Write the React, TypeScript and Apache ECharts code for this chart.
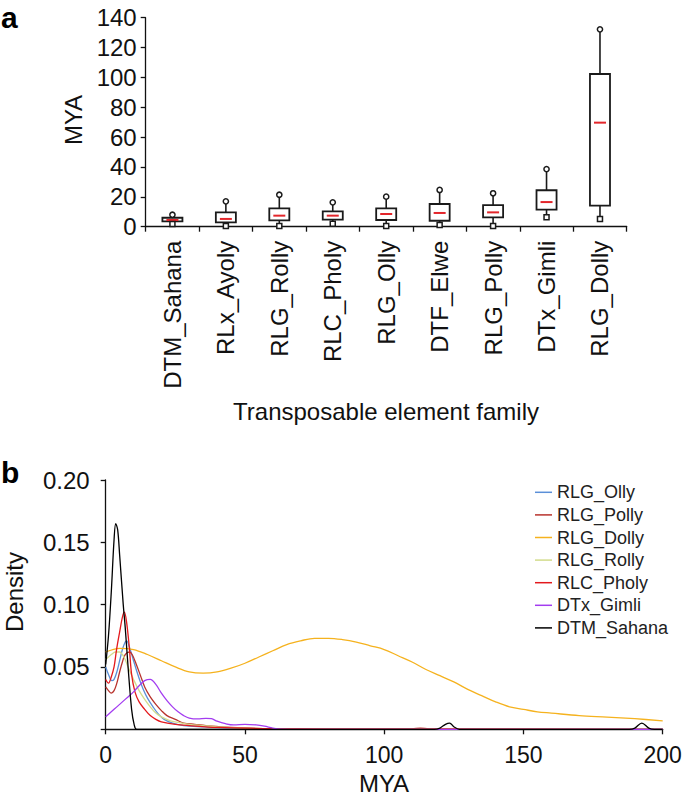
import React, { useEffect, useRef } from "react";
import * as echarts from "echarts";

// ---------- Panel a: box plots ----------
const families = ["DTM_Sahana", "RLx_Ayoly", "RLG_Rolly", "RLC_Pholy", "RLG_Olly", "DTF_Elwe", "RLG_Polly", "DTx_Gimli", "RLG_Dolly"];
const boxMin = [1.8, 0.5, 0.5, 2.0, 0.5, 1.1, 0.5, 6.3, 5.2];
const boxQ1 = [3.6, 2.9, 4.3, 4.7, 4.5, 4.0, 6.3, 11.4, 14.1];
const boxMed = [4.5, 5.2, 7.4, 7.4, 8.5, 9.2, 9.6, 16.5, 69.7];
const boxQ3 = [6.0, 9.6, 12.3, 10.3, 12.3, 15.2, 14.5, 24.4, 102.3];
const boxMax = [8.0, 17.0, 21.4, 16.3, 20.1, 24.6, 22.4, 38.6, 132.2];
const yTicksA = { min: 0, max: 140, interval: 20 };

// ---------- Panel b: density curves ----------
const ollyX = [0, 1, 2.2, 3, 4, 5, 6, 7, 7.5, 8.5, 10, 11.1, 12.3, 13.5, 15, 17, 19, 21, 24, 28, 35, 45, 60, 80, 200];
const ollyY = [0.05, 0.044, 0.039, 0.04, 0.046, 0.055, 0.064, 0.07, 0.071, 0.066, 0.055, 0.047, 0.039, 0.032, 0.025, 0.018, 0.012, 0.008, 0.005, 0.003, 0.002, 0.001, 0.0004, 0.0002, 0];

const pollyX = [0, 1, 2, 3, 4, 5, 6, 7, 8.5, 9.5, 11, 12.5, 14, 16, 18, 20, 22, 25, 28, 32, 36, 45, 60, 80, 110, 113, 116, 200];
const pollyY = [0.034, 0.031, 0.029, 0.031, 0.037, 0.046, 0.054, 0.06, 0.062, 0.06, 0.052, 0.043, 0.034, 0.026, 0.02, 0.015, 0.011, 0.008, 0.005, 0.004, 0.003, 0.0015, 0.0005, 0.0003, 0.0003, 0.001, 0.0003, 0];

const dollyX = [0, 5, 10, 15, 20, 25, 30, 35, 40, 45, 50, 55, 60, 65, 70, 75, 80, 85, 90, 95, 100, 105, 110, 115, 120, 125, 130, 135, 140, 145, 150, 155, 160, 170, 180, 190, 200];
const dollyY = [0.062, 0.065, 0.064, 0.06, 0.055, 0.05, 0.046, 0.045, 0.046, 0.049, 0.053, 0.058, 0.063, 0.068, 0.071, 0.073, 0.073, 0.072, 0.07, 0.067, 0.064, 0.059, 0.054, 0.048, 0.043, 0.038, 0.032, 0.027, 0.022, 0.018, 0.016, 0.014, 0.013, 0.011, 0.0098, 0.0085, 0.0068];

const rollyX = [0, 1, 2, 3.5, 5, 6, 7, 8, 9, 10, 12, 14, 16, 18, 20, 23, 26, 30, 35, 40, 50, 60, 80, 200];
const rollyY = [0.056, 0.058, 0.06, 0.062, 0.062, 0.06, 0.056, 0.05, 0.045, 0.04, 0.031, 0.024, 0.018, 0.013, 0.01, 0.007, 0.0055, 0.004, 0.003, 0.002, 0.001, 0.0005, 0.0002, 0];

const pholyX = [0, 1, 2, 3, 3.9, 5, 6, 6.7, 7.5, 8.5, 9.3, 10.5, 12, 14, 16, 18, 20, 25, 30, 40, 60, 80, 200];
const pholyY = [0.04, 0.037, 0.042, 0.05, 0.064, 0.078, 0.09, 0.094, 0.086, 0.065, 0.044, 0.03, 0.022, 0.016, 0.011, 0.008, 0.006, 0.004, 0.003, 0.0015, 0.0005, 0.0002, 0];

const gimliX = [0, 2, 4, 6, 8, 10, 12, 14, 16, 18, 20, 22, 24, 26, 28, 30, 33, 36, 38, 40, 43, 46, 50, 54, 57, 60, 63, 70, 200];
const gimliY = [0.01, 0.014, 0.018, 0.022, 0.026, 0.03, 0.035, 0.039, 0.04, 0.036, 0.029, 0.023, 0.018, 0.014, 0.011, 0.009, 0.0083, 0.0088, 0.0085, 0.0065, 0.0045, 0.0035, 0.004, 0.0035, 0.0025, 0.001, 0.0002, 0, 0];

const sahanaX = [0, 1, 2, 3, 3.6, 4.3, 5, 6.3, 7, 8.1, 9.3, 10.2, 11.1, 20, 118, 120, 122, 123.5, 125, 127, 188, 190, 192.5, 195, 197, 200];
const sahanaY = [0.052, 0.075, 0.11, 0.152, 0.165, 0.16, 0.14, 0.1, 0.082, 0.048, 0.016, 0.004, 0, 0, 0, 0.001, 0.004, 0.005, 0.002, 0, 0, 0.001, 0.005, 0.001, 0, 0];

const densityNames = ["RLG_Olly", "RLG_Polly", "RLG_Dolly", "RLG_Rolly", "RLC_Pholy", "DTx_Gimli", "DTM_Sahana"];
const densityColors = ["#5b8fd8", "#b8322c", "#f5b21e", "#d3dc8c", "#e3191d", "#a33cf0", "#000000"];
const densityXs = [ollyX, pollyX, dollyX, rollyX, pholyX, gimliX, sahanaX];
const densityYs = [ollyY, pollyY, dollyY, rollyY, pholyY, gimliY, sahanaY];

const FONT = '"Liberation Sans", Arial, Helvetica, sans-serif';
const INK = "#111";

export default function App() {
  const ref = useRef<HTMLDivElement>(null);

  useEffect(() => {
    if (!ref.current) return;
    const chart = echarts.init(ref.current, undefined, { renderer: "svg" });

    const boxData = families.map((_, i) => [i, boxMin[i], boxQ1[i], boxMed[i], boxQ3[i], boxMax[i]]);

    const lineSeries = densityNames.map((name, k) => ({
      name,
      type: "line",
      xAxisIndex: 1,
      yAxisIndex: 1,
      data: densityXs[k].map((x, j) => [x, densityYs[k][j]]),
      showSymbol: false,
      smooth: 0.35,
      clip: true,
      color: densityColors[k],
      lineStyle: { color: densityColors[k], width: 1.3 },
      itemStyle: { color: densityColors[k] },
      z: 2 + k,
    }));

    const option: any = {
      animation: false,
      textStyle: { fontFamily: FONT },
      grid: [
        { left: 145.7, top: 17.7, width: 481, height: 209 },
        { left: 105.7, top: 480, width: 557, height: 249.3 },
      ],
      xAxis: [
        {
          type: "category",
          gridIndex: 0,
          data: families,
          boundaryGap: true,
          axisLine: { show: true, lineStyle: { color: INK, width: 1.3 } },
          axisTick: { show: true, alignWithLabel: false, interval: 0, length: 5, lineStyle: { color: INK, width: 1.3 } },
          axisLabel: { rotate: 90, interval: 0, fontSize: 24, color: INK, margin: 14, fontFamily: FONT },
          splitLine: { show: false },
        },
        {
          type: "value",
          gridIndex: 1,
          min: 0,
          max: 200,
          interval: 50,
          axisLine: { show: true, onZero: false, lineStyle: { color: INK, width: 1.3 } },
          axisTick: { show: true, length: 5, lineStyle: { color: INK, width: 1.3 } },
          axisLabel: { fontSize: 23, color: INK, margin: 14, fontFamily: FONT },
          splitLine: { show: false },
        },
      ],
      yAxis: [
        {
          type: "value",
          gridIndex: 0,
          min: yTicksA.min,
          max: yTicksA.max,
          interval: yTicksA.interval,
          axisLine: { show: true, lineStyle: { color: INK, width: 1.3 } },
          axisTick: { show: true, length: 5, lineStyle: { color: INK, width: 1.3 } },
          axisLabel: { fontSize: 24, color: INK, margin: 9, fontFamily: FONT },
          splitLine: { show: false },
        },
        {
          type: "value",
          gridIndex: 1,
          min: 0,
          max: 0.2,
          interval: 0.05,
          axisLine: { show: true, lineStyle: { color: INK, width: 1.3 } },
          axisTick: { show: true, length: 5, lineStyle: { color: INK, width: 1.3 } },
          axisLabel: {
            fontSize: 24,
            color: INK,
            margin: 16,
            fontFamily: FONT,
            formatter: (v: number) => (v === 0 ? "" : v.toFixed(2)),
          },
          splitLine: { show: false },
        },
      ],
      legend: {
        data: densityNames,
        orient: "vertical",
        left: 530,
        top: 476,
        icon: "rect",
        itemWidth: 17,
        itemHeight: 1.5,
        itemGap: 0,
        textStyle: { fontSize: 18, color: "#222", fontFamily: FONT, lineHeight: 22.6 },
        selectedMode: false,
      },
      series: [
        {
          type: "custom",
          name: "box",
          xAxisIndex: 0,
          yAxisIndex: 0,
          data: boxData,
          encode: { x: 0, y: [1, 2, 3, 4, 5] },
          renderItem: (params: any, api: any) => {
            const idx = api.value(0);
            const cx = api.coord([idx, api.value(1)])[0];
            const yMin = api.coord([idx, api.value(1)])[1];
            const yQ1 = api.coord([idx, api.value(2)])[1];
            const yMed = api.coord([idx, api.value(3)])[1];
            const yQ3 = api.coord([idx, api.value(4)])[1];
            const yMax = api.coord([idx, api.value(5)])[1];
            const bw = api.size([1, 0])[0] * 0.375;
            const stroke = "#1a1a1a";
            return {
              type: "group",
              children: [
                { type: "line", shape: { x1: cx, y1: yQ3, x2: cx, y2: yMax }, style: { stroke, lineWidth: 1.6 } },
                { type: "line", shape: { x1: cx, y1: yQ1, x2: cx, y2: yMin }, style: { stroke, lineWidth: 1.6 } },
                {
                  type: "rect",
                  shape: { x: cx - bw / 2, y: yQ3, width: bw, height: yQ1 - yQ3 },
                  style: { fill: "#fff", stroke, lineWidth: 1.8 },
                },
                { type: "line", shape: { x1: cx - 6, y1: yMed, x2: cx + 6, y2: yMed }, style: { stroke: "#e3262b", lineWidth: 2 } },
                { type: "circle", shape: { cx, cy: yMax, r: 2.6 }, style: { fill: "#fff", stroke, lineWidth: 1.5 } },
                {
                  type: "rect",
                  shape: { x: cx - 2.5, y: yMin - 2.5, width: 5, height: 5 },
                  style: { fill: "#fff", stroke, lineWidth: 1.5 },
                },
              ],
            };
          },
          z: 3,
        },
        ...lineSeries,
      ],
      graphic: [
        { type: "text", left: 1, top: 2, style: { text: "a", font: `bold 30px ${FONT}`, fill: "#000" } },
        { type: "text", left: 1, top: 457, style: { text: "b", font: `bold 30px ${FONT}`, fill: "#000" } },
        {
          type: "text",
          x: 73,
          y: 120,
          rotation: Math.PI / 2,
          style: { text: "MYA", font: `24px ${FONT}`, fill: INK, align: "center", verticalAlign: "middle" },
        },
        {
          type: "text",
          x: 386,
          y: 411,
          style: { text: "Transposable element family", font: `24px ${FONT}`, fill: INK, align: "center", verticalAlign: "middle" },
        },
        {
          type: "text",
          x: 14,
          y: 592,
          rotation: Math.PI / 2,
          style: { text: "Density", font: `24px ${FONT}`, fill: INK, align: "center", verticalAlign: "middle" },
        },
        {
          type: "text",
          x: 384,
          y: 783,
          style: { text: "MYA", font: `24px ${FONT}`, fill: INK, align: "center", verticalAlign: "middle" },
        },
      ],
    };

    chart.setOption(option);
    return () => chart.dispose();
  }, []);

  return (
    <div
      ref={ref}
      style={{ position: "fixed", left: 0, top: 0, width: 685, height: 799, background: "#fff" }}
    />
  );
}
